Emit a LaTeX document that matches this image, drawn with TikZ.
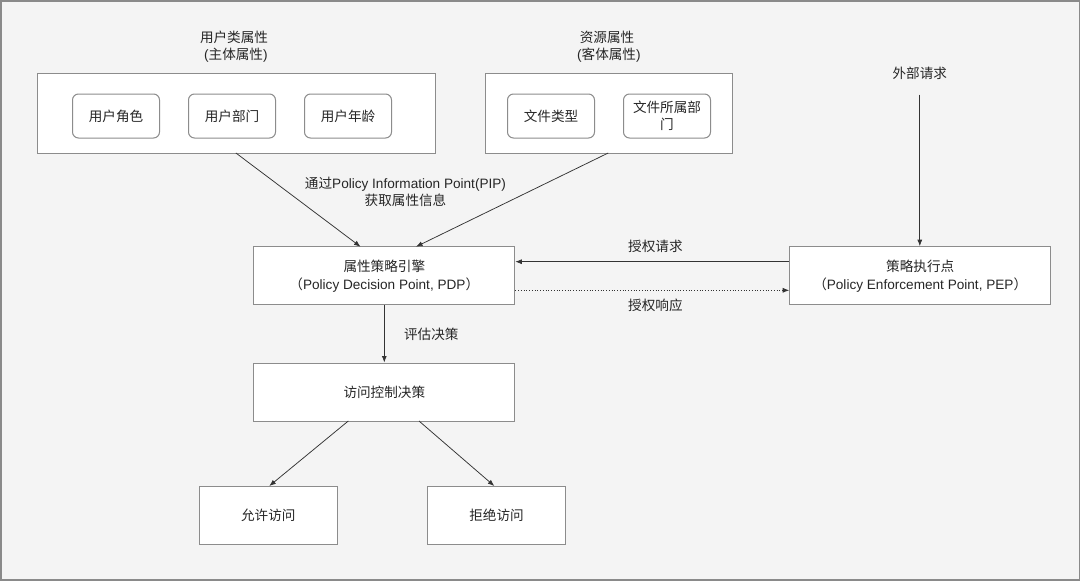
\documentclass[tikz,border=0pt]{standalone}
\usepackage{fontspec}
\setmainfont{Liberation Sans}
\newfontfamily\cjk{Noto Sans CJK SC}
\usetikzlibrary{arrows.meta}
\definecolor{bgc}{HTML}{F4F4F4}
\definecolor{framec}{HTML}{8A8A8A}
\definecolor{boxc}{HTML}{8C8C8C}
\definecolor{linec}{HTML}{333333}
\tikzset{
  txt/.style={font=\fontsize{13.6}{17}\selectfont, text=black!85, inner sep=0pt},
  rbox/.style={draw=boxc, line width=1pt, fill=white},
  ibox/.style={draw=boxc, line width=1pt, fill=white, rounded corners=6pt, align=center, font=\fontsize{13.6}{17}\selectfont, text=black!85},
  conn/.style={draw=linec, line width=0.75pt, -{Latex[length=6.5pt,width=5pt]}},
  dconn/.style={conn, dotted}
}
\begin{document}
\begin{tikzpicture}[x=1pt,y=-1pt]
\useasboundingbox (0,0) rectangle (1080,581);
\fill[bgc] (0,0) rectangle (1080,581);
\draw[framec, line width=1.5pt] (0.75,0.75) rectangle (1079.25,580);

% top group boxes
\node[rbox, minimum width=398pt, minimum height=80pt, anchor=north west, inner sep=0pt] (ubox) at (37,73) {};
\node[rbox, minimum width=247pt, minimum height=80pt, anchor=north west, inner sep=0pt] (rsbox) at (485,73) {};

\node[txt, align=center] (utitle) at (234,47) {\cjk 用户类属性\\\ (\cjk 主体属性\rmfamily)};
\node[txt, align=center] (rtitle) at (607,47) {\cjk 资源属性\\\ (\cjk 客体属性\rmfamily)};

\node[ibox, minimum width=87pt, minimum height=44pt] (role) at (116,116) {\cjk 用户角色};
\node[ibox, minimum width=87pt, minimum height=44pt] (dept) at (232,116) {\cjk 用户部门};
\node[ibox, minimum width=87pt, minimum height=44pt] (age) at (348,116) {\cjk 用户年龄};
\node[ibox, minimum width=87pt, minimum height=44pt] (ftype) at (551,116) {\cjk 文件类型};
\node[ibox, minimum width=87pt, minimum height=44pt, text width=80pt] (fdept) at (667,116) {\cjk 文件所属部\\\cjk 门};

% PDP, PEP, decision
\node[rbox, minimum width=261pt, minimum height=58pt] (pdp) at (384.3,275.7) {};
\node[txt, align=center] (pdptext) at (pdp) {\cjk 属性策略引擎\\[1pt]{\cjk （}Policy Decision Point, PDP{\cjk ）}};
\node[rbox, minimum width=261pt, minimum height=58pt] (pep) at (920.2,275.7) {};
\node[txt, align=center] (peptext) at (pep) {\cjk 策略执行点\\[1pt]{\cjk （}Policy Enforcement Point, PEP{\cjk ）}};
\node[rbox, minimum width=261pt, minimum height=58pt] (acd) at (384.3,392) {};
\node[txt] (acdtext) at (acd) {\cjk 访问控制决策};
\node[rbox, minimum width=138pt, minimum height=58pt] (allow) at (268.3,515) {};
\node[txt] (allowtext) at (allow) {\cjk 允许访问};
\node[rbox, minimum width=138pt, minimum height=58pt] (deny) at (496.5,515) {};
\node[txt] (denytext) at (deny) {\cjk 拒绝访问};

\node[txt] (ext) at (919.8,73) {\cjk 外部请求};

% connectors
\coordinate (u1) at (235.9,153);
\coordinate (u2) at (360.5,246.7);
\coordinate (r1) at (608.2,153);
\coordinate (r2) at (416,246.7);
\draw[conn] (u1) -- (u2);
\draw[conn] (r1) -- (r2);
\node[txt, align=center] (piplbl) at (405.5,192) {{\cjk 通过}Policy Information Point(PIP)\\\cjk 获取属性信息};

\draw[conn] (ext.south |- 0,94.7) -- (pep.north -| ext.south);
\draw[conn] (pep.west |- 0,261.7) -- (pdp.east |- 0,261.7);
\draw[dconn] (pdp.east |- 0,290.3) -- (pep.west |- 0,290.3);
\node[txt] (reqlbl) at (655.4,246.7) {\cjk 授权请求};
\node[txt] (resplbl) at (655.4,305) {\cjk 授权响应};

\draw[conn] (pdp.south) -- (acd.north);
\node[txt] (evallbl) at (431.3,334) {\cjk 评估决策};

\coordinate (a1) at (348.3,421);
\coordinate (a2) at (269.3,486);
\coordinate (d1) at (419,421);
\coordinate (d2) at (494.3,486);
\draw[conn] (a1) -- (a2);
\draw[conn] (d1) -- (d2);
\end{tikzpicture}
\end{document}
